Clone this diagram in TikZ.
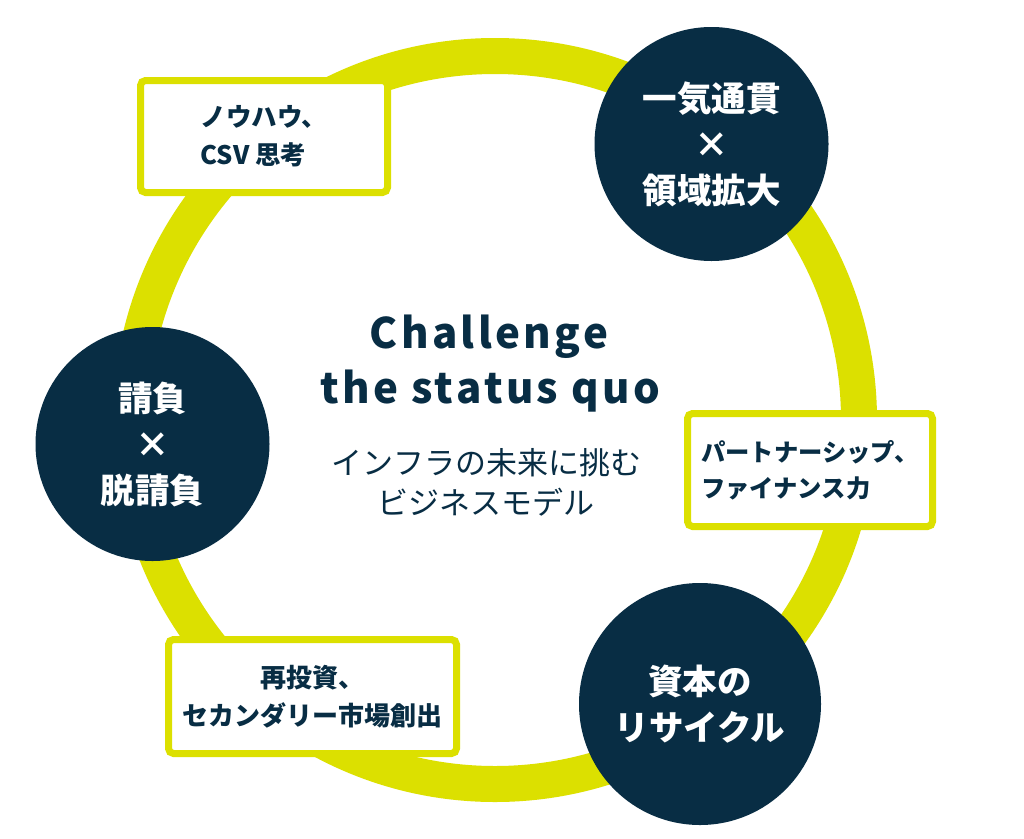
\documentclass[tikz,border=0pt]{standalone}
\usepackage{fontspec}
\newfontfamily\jp{Noto Sans CJK JP}
\newfontfamily\jpwide[LetterSpace=8]{Noto Sans CJK JP}
\definecolor{ringc}{RGB}{220,224,0}
\definecolor{navy}{RGB}{8,45,68}
\tikzset{
  boxnode/.style={draw=ringc, line width=7pt, rounded corners=5pt, fill=white,
    text=navy, inner sep=0pt},
  discnode/.style={circle, fill=navy, text=white, inner sep=0pt, align=center,
    font=\jp\bfseries\fontsize{34.5}{46}\selectfont},
  titlenode/.style={text=navy, inner sep=0pt, anchor=base, font=\jpwide\bfseries\fontsize{42}{42}\selectfont},
  subnode/.style={text=navy, inner sep=0pt, anchor=base, font=\jp\fontsize{31}{31}\selectfont}
}
\begin{document}
\begin{tikzpicture}[x=1pt,y=-1pt]
\useasboundingbox[fill=white] (0,0) rectangle (1024,838);
\coordinate (c) at (495,420);
\draw[ringc, line width=36pt] (c) circle[radius=364pt];
% boxes
\node[boxnode, minimum width=247pt, minimum height=112pt, align=left,
  font=\jp\bfseries\fontsize{25.5}{38}\selectfont] (b1) at (264,136.5) {ノウハウ、\\CSV 思考};
\node[boxnode, minimum width=245pt, minimum height=113pt, align=left,
  font=\jp\bfseries\fontsize{24.3}{36}\selectfont] (b2) at (810,470) {パートナーシップ、\\ファイナンス力};
\node[boxnode, minimum width=288pt, minimum height=114pt, align=center,
  font=\jp\bfseries\fontsize{26}{38}\selectfont] (b3) at (312.5,696.5) {再投資、\\セカンダリー市場創出};
% discs
\node[discnode, minimum size=234pt] (d1) at (711.5,144) {一気通貫\\×\\領域拡大};
\node[discnode, minimum size=234pt] (d2) at (152.5,444) {請負\\×\\脱請負};
\node[discnode, minimum size=242pt] (d3) at (700,704) {資本の\\リサイクル};
% centre text
\node[titlenode] (t1) at (489,348) {Challenge};
\node[titlenode] (t2) at (490,403) {the status quo};
\node[subnode] (s1) at (486.5,474) {インフラの未来に挑む};
\node[subnode] (s2) at (486,514) {ビジネスモデル};
\end{tikzpicture}
\end{document}
